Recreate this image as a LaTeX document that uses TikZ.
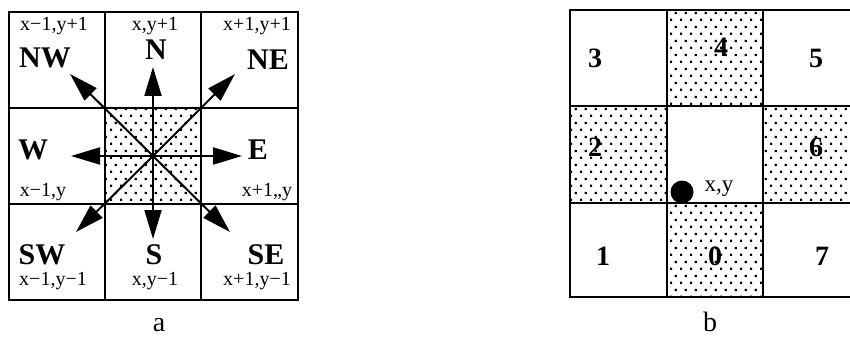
\documentclass[tikz,border=0pt]{standalone}
\usepackage{fontspec}
\setmainfont{Liberation Serif}
\usetikzlibrary{arrows.meta,patterns.meta}

% staggered square-dot stipple used for the shaded cells
\tikzdeclarepattern{
  name=stipple,
  type=uncolored,
  bounding box={(0pt,0pt) and (10pt,13.8pt)},
  tile size={(10pt,13.8pt)},
  code={
    \fill (0pt,0pt) rectangle (2.4pt,2.4pt);
    \fill (5pt,6.9pt) rectangle (7.4pt,9.3pt);
  }
}

\tikzset{
  gridline/.style={line width=2pt},
  shadedcell/.style={pattern=stipple, pattern color=black},
  dirarrow/.style={line width=2pt, -{Triangle[length=29pt,width=17pt]}},
  coordlabel/.style={font=\fontsize{20}{20}\selectfont, inner sep=0pt, anchor=base},
  dirlabel/.style={font=\fontsize{30}{30}\selectfont\bfseries, inner sep=0pt, anchor=base},
  numlabel/.style={font=\fontsize{28}{28}\selectfont\bfseries, inner sep=0pt, anchor=base},
  caption/.style={font=\fontsize{28}{28}\selectfont, inner sep=0pt, anchor=base},
}

\begin{document}
\begin{tikzpicture}[x=1pt,y=-1pt]
\useasboundingbox (0,0) rectangle (850,339);

% ---------- (a) eight-neighbourhood ----------
\fill[shadedcell] (105,108) rectangle (201,204);
\draw[gridline] (9,12) rectangle (298,300);
\draw[gridline] (105,12) -- (105,300) (201,12) -- (201,300)
                (9,108) -- (298,108) (9,204) -- (298,204);

\coordinate (c) at (153,156);
\coordinate (tN)  at (153,67);
\coordinate (tS)  at (153,239);
\coordinate (tW)  at (71,156);
\coordinate (tE)  at (242,156);
\coordinate (tNW) at (70,74);
\coordinate (tNE) at (235,74);
\coordinate (tSW) at (76,232);
\coordinate (tSE) at (230,232);
\foreach \t in {tN,tS,tW,tE,tNW,tNE,tSW,tSE}
  \draw[dirarrow] (c) -- (\t);

\node[coordlabel] (lnw) at (54,31)  {x−1,y+1};
\node[coordlabel] (ln)  at (155,31) {x,y+1};
\node[coordlabel] (lne) at (257,31) {x+1,y+1};
\node[dirlabel] (NW) at (45,68)  {NW};
\node[dirlabel] (N)  at (156,60) {N};
\node[dirlabel] (NE) at (268,70) {NE};
\node[dirlabel] (W)  at (33,160)  {W};
\node[dirlabel] (E)  at (258,160) {E};
\node[coordlabel] (lw) at (43,196)  {x−1,y};
\node[coordlabel] (le) at (267,196) {x+1,,y};
\node[dirlabel] (SW) at (42,264)  {SW};
\node[dirlabel] (S)  at (154,264) {S};
\node[dirlabel] (SE) at (266,264) {SE};
\node[coordlabel] (lsw) at (53,285)  {x−1,y−1};
\node[coordlabel] (ls)  at (155,285) {x,y−1};
\node[coordlabel] (lse) at (257,285) {x+1,y−1};
\node[caption] (capa) at (159,331) {a};

% ---------- (b) chain-code numbering ----------
\fill[shadedcell] (667,10) rectangle (763,106);
\fill[shadedcell] (570,106) rectangle (667,203);
\fill[shadedcell] (763,106) rectangle (859,203);
\fill[shadedcell] (667,203) rectangle (763,297);
\draw[gridline] (570,10) rectangle (859,297);
\draw[gridline] (667,10) -- (667,297) (763,10) -- (763,297)
                (570,106) -- (859,106) (570,203) -- (859,203);

\node[numlabel] (n3) at (595,68)  {3};
\node[numlabel] (n4) at (721,57)  {4};
\node[numlabel] (n5) at (816,68)  {5};
\node[numlabel] (n2) at (595,157) {2};
\node[numlabel] (n6) at (816,157) {6};
\node[numlabel] (n1) at (603,265) {1};
\node[numlabel] (n0) at (715,265) {0};
\node[numlabel] (n7) at (822,265) {7};
\fill (682,192) circle (11.5pt);
\node[coordlabel, font=\fontsize{23}{23}\selectfont] (lxy) at (719,191) {x,y};
\node[caption] (capb) at (710,331) {b};
\end{tikzpicture}
\end{document}
